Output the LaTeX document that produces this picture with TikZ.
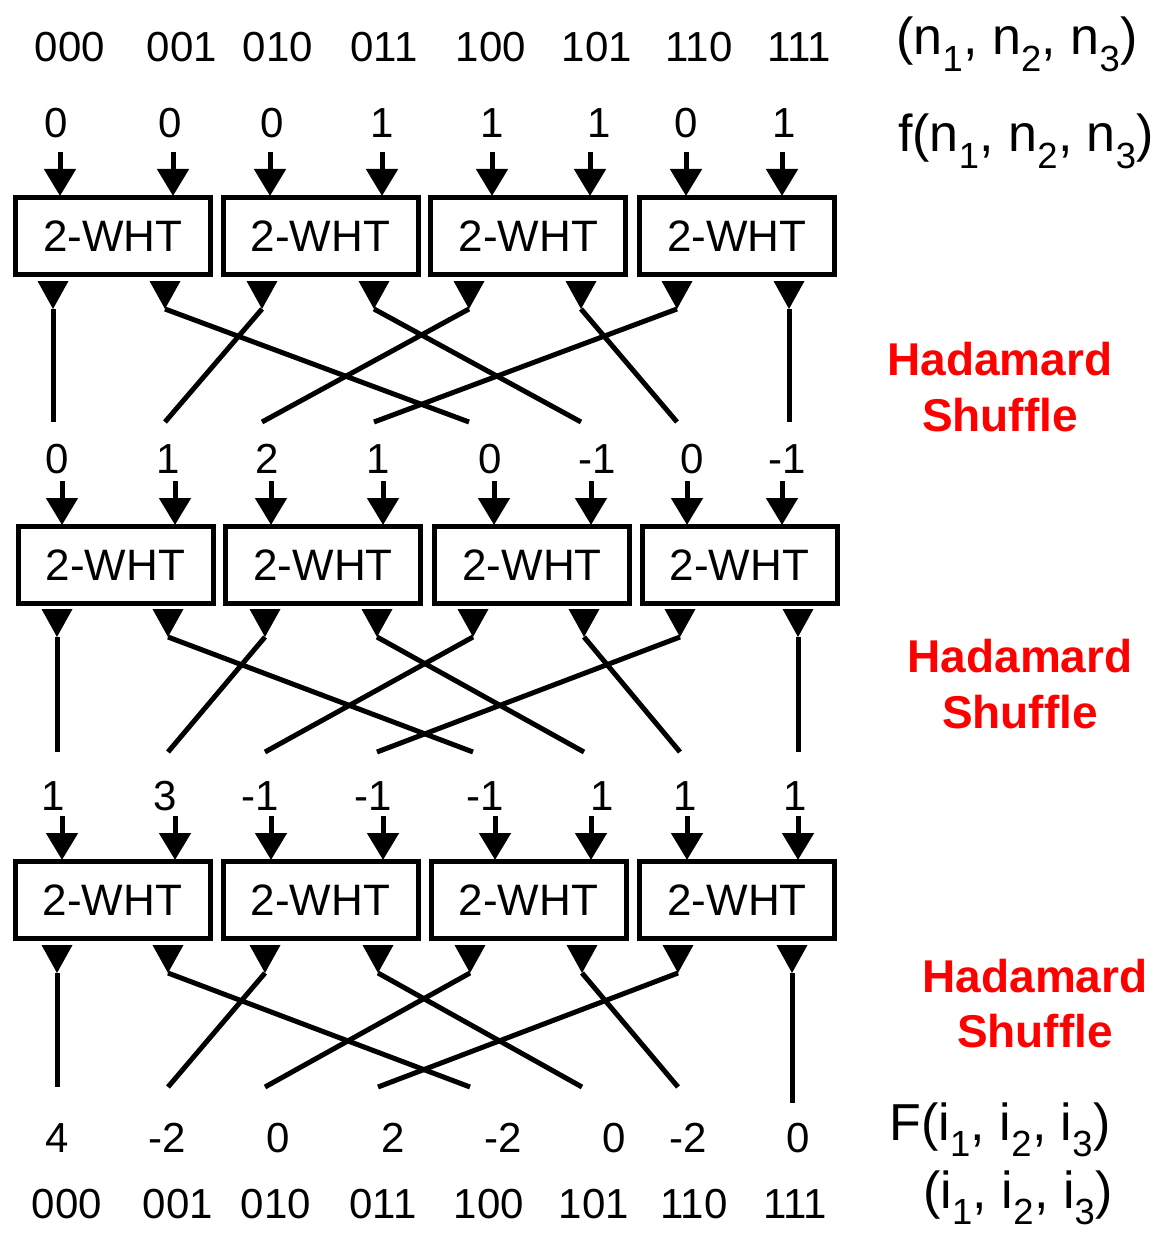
\documentclass[tikz,border=0pt]{standalone}
\usepackage{fontspec}
\setmainfont{Liberation Sans}
\usetikzlibrary{arrows.meta}
\tikzset{
  x=1pt, y=-1pt,
  wire/.style={line width=5pt},
  inarr/.style={line width=5pt, -{Triangle[length=27pt,width=31pt]}},
  outtri/.style={fill=black},
  whtbox/.style={draw, line width=5pt, minimum width=195pt, minimum height=77pt, inner sep=0pt,
    font=\fontsize{44}{44}\selectfont},
  val/.style={anchor=base, inner sep=0pt, font=\fontsize{42}{42}\selectfont},
  lbl/.style={anchor=base, inner sep=0pt, font=\fontsize{52}{52}\selectfont},
  shuf/.style={anchor=base, inner sep=0pt, text=red, font=\fontsize{46}{46}\selectfont\bfseries},
}
\begin{document}
\begin{tikzpicture}
\useasboundingbox (0,0) rectangle (1174,1233);

% ---------- top labels ----------
\foreach \x/\t [count=\j] in {70/000,182/001,278/010,384/011,491/100,597/101,699/110,799/111}
  \node[val] (top-\j) at (\x,62) {\t};
\node[lbl] (nlab) at (1017,55) {(n\textsubscript{1}, n\textsubscript{2}, n\textsubscript{3})};
\node[lbl] (flab) at (1026,152) {f(n\textsubscript{1}, n\textsubscript{2}, n\textsubscript{3})};

% ---------- value rows ----------
\foreach \x/\t [count=\j] in {56/0,170/0,272/0,382/1,492/1,599/1,686/0,784/1}
  \node[val] (v0-\j) at (\x,138) {\t};
\foreach \x/\t [count=\j] in {57/0,168/1,267/2,378/1,490/0,597/-1,692/0,787/-1}
  \node[val] (v1-\j) at (\x,473) {\t};
\foreach \x/\t [count=\j] in {53/1,165/3,260/-1,373/-1,485/-1,602/1,685/1,795/1}
  \node[val] (v2-\j) at (\x,810) {\t};
\foreach \x/\t [count=\j] in {57/4,167/-2,278/0,393/2,503/-2,614/0,688/-2,798/0}
  \node[val] (v3-\j) at (\x,1152) {\t};
\foreach \x/\t [count=\j] in {67/000,178/001,276/010,383/011,489/100,594/101,694/110,795/111}
  \node[val] (bot-\j) at (\x,1218) {\t};
\node[lbl] (Flab) at (1000,1140) {F(i\textsubscript{1}, i\textsubscript{2}, i\textsubscript{3})};
\node[lbl] (ilab) at (1018,1208) {(i\textsubscript{1}, i\textsubscript{2}, i\textsubscript{3})};

% ---------- boxes ----------
\foreach \x [count=\b] in {112.75,320.5,528.25,736.75}
  \node[whtbox] (B-1-\b) at (\x,236.25) {2-WHT};
\foreach \x [count=\b] in {115.5,323,532,739.5}
  \node[whtbox] (B-2-\b) at (\x,565) {2-WHT};
\foreach \x [count=\b] in {112.5,320.5,528.5,737}
  \node[whtbox] (B-3-\b) at (\x,900) {2-WHT};

% ---------- input arrows ----------
\foreach \s/\ya/\yb/\xs in {1/152/196/{60,173,270,382,492,590,686,782},
                            2/481/525/{62,175,271,383,494,591,687,782},
                            3/816/860/{62,175,271,383,495,591,687,798}} {
  \foreach \x [count=\j] in \xs {
    \coordinate (a-\s-\j) at (\x,\ya);
    \coordinate (b-\s-\j) at (\x,\yb);
    \draw[inarr] (a-\s-\j) -- (b-\s-\j);
  }
}

% ---------- output arrows and Hadamard shuffle ----------
\foreach \s/\yb/\yt/\ye/\xs in {1/281/309/422/{53,165,262,374,469,581,677,789},
                                2/609/637/752/{57,168,265,377,473,584,680,798},
                                3/945/973/1087/{57,168,265,378,470,582,678,792}} {
  \foreach \x [count=\j] in \xs {
    \coordinate (o-\s-\j) at (\x,\yb);
    \coordinate (t-\s-\j) at (\x,\yt);
    \coordinate (e-\s-\j) at (\x,\ye);
    \fill[outtri] (o-\s-\j) ++(-15.5,0) -- ++(31,0) -- (t-\s-\j) -- cycle;
  }
}
\coordinate (e-3-8) at (792,1103);
\foreach \s in {1,2,3}
  \foreach \j/\d in {1/1,2/5,3/2,4/6,5/3,6/7,7/4,8/8}
    \draw[wire] (t-\s-\j) -- (e-\s-\d);

% ---------- shuffle labels ----------
\node[shuf] (h1a) at (1000,375) {Hadamard};
\node[shuf] (h1b) at (1000,431) {Shuffle};
\node[shuf] (h2a) at (1020,672) {Hadamard};
\node[shuf] (h2b) at (1020,728) {Shuffle};
\node[shuf] (h3a) at (1035,992) {Hadamard};
\node[shuf] (h3b) at (1035,1047) {Shuffle};
\end{tikzpicture}
\end{document}
